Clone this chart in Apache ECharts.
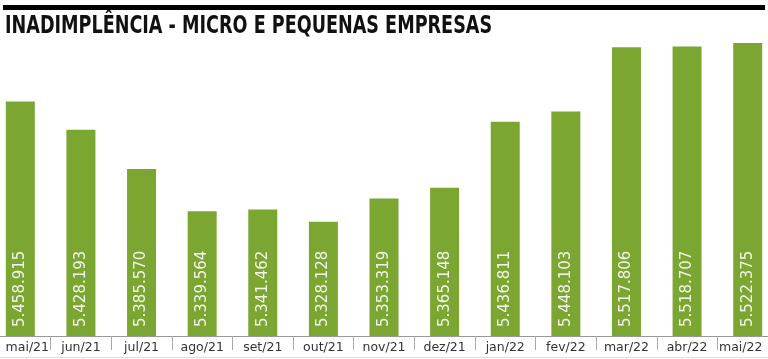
<!DOCTYPE html>
<html><head><meta charset="utf-8">
<script src="https://cdn.jsdelivr.net/npm/echarts@6/dist/echarts.min.js"></script>
<style>html,body{margin:0;padding:0;background:#fff;overflow:hidden;width:768px;height:359px;position:relative}#c{position:absolute;left:-10px;top:0;width:788px;height:359px}</style>
</head><body><div id="c"></div>
<script>
const categories = ['mai/21','jun/21','jul/21','ago/21','set/21','out/21','nov/21','dez/21','jan/22','fev/22','mar/22','abr/22','mai/22'];
const values = [5458915,5428193,5385570,5339564,5341462,5328128,5353319,5365148,5436811,5448103,5517806,5518707,5522375];
const titleText = 'INADIMPLÊNCIA - MICRO E PEQUENAS EMPRESAS';

function fmt(v){return String(v).replace(/\B(?=(\d{3})+(?!\d))/g,'.');}
const OFF = 10;
const catData = categories.map((c,i)=>{
  if(i===0) return {value:c,textStyle:{padding:[0,0,0,14]}};
  if(i===categories.length-1) return {value:c,textStyle:{padding:[0,14,0,0]}};
  return c;
});

const chart = echarts.init(document.getElementById('c'));
chart.setOption({
  animation:false,
  backgroundColor:'#fff',
  graphic:[
    {type:'rect',shape:{x:3+OFF,y:5,width:762,height:5},style:{fill:'#000'}},
    {type:'text',x:5+OFF,y:15,scaleX:0.815,style:{text:titleText,font:'bold 24px "Liberation Sans Narrow", "DejaVu Sans Condensed", sans-serif',fill:'#111'}},
    {type:'rect',shape:{x:0,y:357,width:788,height:1},style:{fill:'#ddd'}}
  ],
  grid:{left:0,right:0,top:30,bottom:23,containLabel:false},
  xAxis:{type:'category',data:catData,
    axisLine:{lineStyle:{color:'#999',width:1}},
    axisTick:{show:true,length:14,lineStyle:{color:'#aaa'}},
    axisLabel:{color:'#333',fontFamily:'DejaVu Sans',fontSize:12.5,margin:5,interval:0}
  },
  yAxis:{type:'value',min:5204000,max:5536600,show:false,splitLine:{show:false}},
  series:[{type:'bar',data:values,barWidth:29,itemStyle:{color:'#7ba632'},
    label:{show:true,position:'insideBottom',rotate:90,distance:9,align:'left',verticalAlign:'middle',
      formatter:p=>fmt(p.value),color:'#f2f6ea',fontFamily:'DejaVu Sans',fontSize:15}
  }]
});
</script></body></html>
